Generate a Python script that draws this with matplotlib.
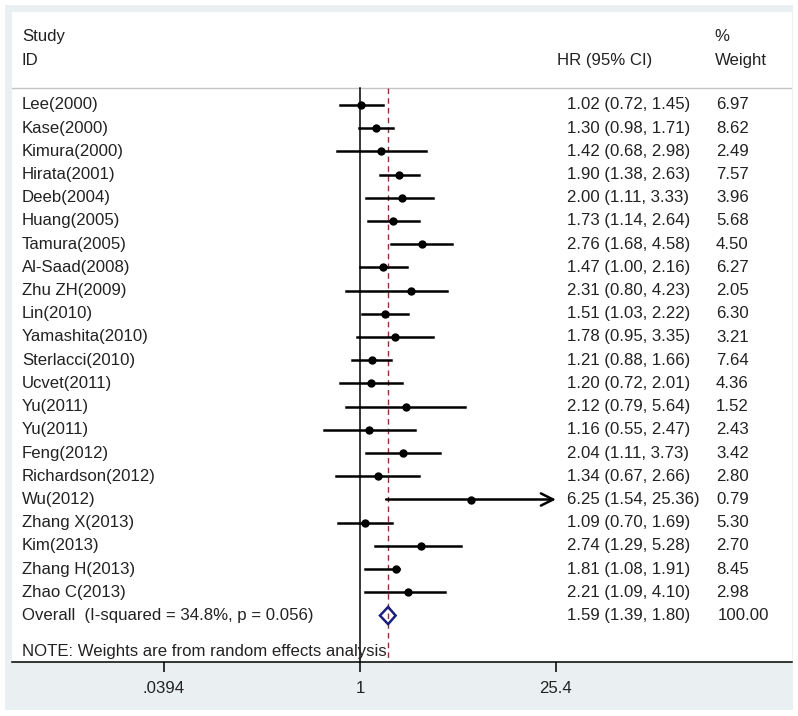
import numpy as np
import matplotlib
matplotlib.use("Agg")
import matplotlib.pyplot as plt
from matplotlib.patches import Polygon

plt.rcParams['font.family'] = ['Liberation Sans', 'DejaVu Sans']

# study data
studies = ["Lee(2000)", "Kase(2000)", "Kimura(2000)", "Hirata(2001)", "Deeb(2004)",
           "Huang(2005)", "Tamura(2005)", "Al-Saad(2008)", "Zhu ZH(2009)", "Lin(2010)",
           "Yamashita(2010)", "Sterlacci(2010)", "Ucvet(2011)", "Yu(2011)", "Yu(2011)",
           "Feng(2012)", "Richardson(2012)", "Wu(2012)", "Zhang X(2013)", "Kim(2013)",
           "Zhang H(2013)", "Zhao C(2013)"]
hr = [1.02, 1.30, 1.42, 1.90, 2.00, 1.73, 2.76, 1.47, 2.31, 1.51, 1.78, 1.21,
      1.20, 2.12, 1.16, 2.04, 1.34, 6.25, 1.09, 2.74, 1.81, 2.21]
lo = [0.72, 0.98, 0.68, 1.38, 1.11, 1.14, 1.68, 1.00, 0.80, 1.03, 0.95, 0.88,
      0.72, 0.79, 0.55, 1.11, 0.67, 1.54, 0.70, 1.29, 1.08, 1.09]
hi = [1.45, 1.71, 2.98, 2.63, 3.33, 2.64, 4.58, 2.16, 4.23, 2.22, 3.35, 1.66,
      2.01, 5.64, 2.47, 3.73, 2.66, 25.36, 1.69, 5.28, 1.91, 4.10]
weight = [6.97, 8.62, 2.49, 7.57, 3.96, 5.68, 4.50, 6.27, 2.05, 6.30, 3.21, 7.64,
          4.36, 1.52, 2.43, 3.42, 2.80, 0.79, 5.30, 2.70, 8.45, 2.98]

overall_label = "Overall  (I-squared = 34.8%, p = 0.056)"
overall_hr, overall_lo, overall_hi = 1.59, 1.39, 1.80
overall_weight = 100.00
note = "NOTE: Weights are from random effects analysis"

xticks = [0.0394, 1, 25.4]
xticklabels = [".0394", "1", "25.4"]

W, H = 798, 716
fig = plt.figure(figsize=(W / 100, H / 100), dpi=100)
fig.patch.set_facecolor("white")
# light outer graph region
bg = fig.add_axes([5 / W, 6 / H, 788 / W, 705 / H], zorder=-10)
bg.set_facecolor("#eaf0f2")
bg.set_xticks([])
bg.set_yticks([])
for s in bg.spines.values():
    s.set_visible(False)

ax = fig.add_axes([12 / W, 54 / H, 780 / W, 650 / H])
ax.set_facecolor("white")
ax.set_xscale("log")
px = 196 / np.log(25.4)  # pixels per ln unit
ax.set_xlim(np.exp((12 - 360) / px), np.exp((792 - 360) / px))
ax.set_ylim(24, -4)

txt = "#222222"
fs = 12.1
trans = ax.get_yaxis_transform()

n = len(studies)
rows = np.arange(n)
top_line = -0.73

# header
ax.text(0.0128, -2.93, "Study", transform=trans, fontsize=fs, color=txt, va="center")
ax.text(0.0128, -1.89, "ID", transform=trans, fontsize=fs, color=txt, va="center")
ax.text(0.699, -1.89, "HR (95% CI)", transform=trans, fontsize=fs, color=txt, va="center")
ax.text(0.901, -2.93, "%", transform=trans, fontsize=fs, color=txt, va="center")
ax.text(0.901, -1.89, "Weight", transform=trans, fontsize=fs, color=txt, va="center")
ax.axhline(top_line, color="#c4c4c4", lw=1)

# reference lines
ax.plot([1, 1], [top_line, 24], color="black", lw=1.1, zorder=2)
ax.plot([overall_hr, overall_hr], [top_line, 24], color="#93303a", lw=1.0,
        dashes=(4, 3), zorder=2)

# studies
for i in rows:
    if hi[i] > 25.3:
        ax.annotate("", xy=(hi[i], i), xytext=(lo[i], i),
                    arrowprops=dict(arrowstyle="->", lw=1.8, color="black",
                                    mutation_scale=22, shrinkA=0, shrinkB=0))
    else:
        ax.plot([lo[i], hi[i]], [i, i], color="black", lw=1.8, zorder=3)
    ax.plot(hr[i], i, "o", color="black", ms=5, zorder=4)
    ax.text(0.0128, i, studies[i], transform=trans, fontsize=fs, color=txt, va="center")
    ax.text(0.7115, i, "%.2f (%.2f, %.2f)" % (hr[i], lo[i], hi[i]), transform=trans,
            fontsize=fs, color=txt, va="center")
    ax.text(0.9026, i, "%.2f" % weight[i], transform=trans, fontsize=fs, color=txt,
            va="center")

# overall
yo = n
h = 0.37
ax.add_patch(Polygon([(overall_lo, yo), (overall_hr, yo - h), (overall_hi, yo),
                      (overall_hr, yo + h)], closed=True, fill=False,
                     edgecolor="#1b1f7a", lw=1.8, zorder=5))
ax.text(0.0128, yo, overall_label, transform=trans, fontsize=fs, color=txt, va="center")
ax.text(0.7115, yo, "%.2f (%.2f, %.2f)" % (overall_hr, overall_lo, overall_hi),
        transform=trans, fontsize=fs, color=txt, va="center")
ax.text(0.905, yo, "%.2f" % overall_weight, transform=trans, fontsize=fs, color=txt,
        va="center")
ax.text(0.0128, 23.54, note, transform=trans, fontsize=fs, color=txt, va="center")

# axes styling
for s in ["left", "right", "top"]:
    ax.spines[s].set_visible(False)
ax.spines["bottom"].set_linewidth(1.1)
ax.set_yticks([])
ax.set_xticks(xticks)
ax.set_xticklabels(xticklabels)
ax.minorticks_off()
ax.tick_params(axis="x", length=7.5, width=1.1, pad=6, labelsize=fs, labelcolor=txt)

fig.savefig("out.png", dpi=100)
